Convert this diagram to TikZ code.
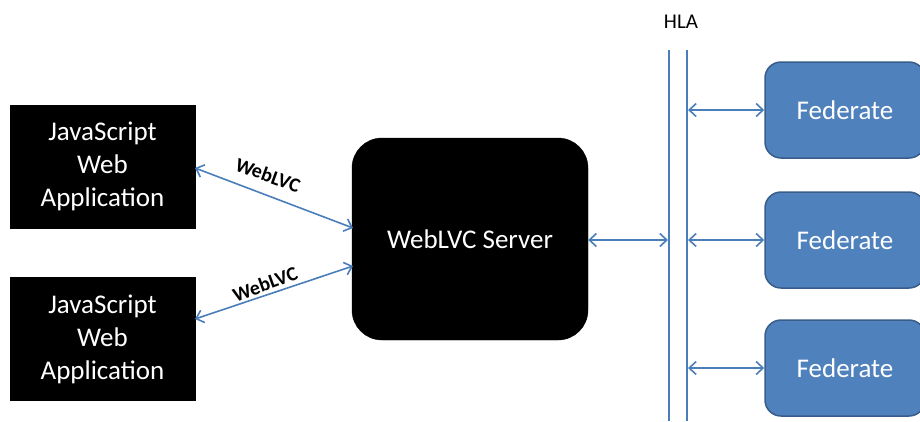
\documentclass[tikz,border=0pt]{standalone}
\usepackage{fontspec}
\setmainfont{Carlito}
\usetikzlibrary{arrows.meta}
\definecolor{linkblue}{HTML}{4A7EBB}
\definecolor{fedfill}{HTML}{4F81BD}
\definecolor{fededge}{HTML}{385D8A}
\begin{document}
\begin{tikzpicture}[x=1pt,y=-1pt,
  appbox/.style={fill=black,draw=black,minimum width=185pt,minimum height=123pt,
    text=white,align=center,font=\fontsize{27}{33}\selectfont,inner sep=0pt},
  serverbox/.style={fill=black,draw=black,rounded corners=30pt,minimum width=236pt,
    minimum height=202pt,text=white,font=\fontsize{27}{30}\selectfont},
  fedbox/.style={fill=fedfill,draw=fededge,line width=1.5pt,rounded corners=16pt,
    minimum width=160pt,minimum height=96pt,text=white,font=\fontsize{27}{30}\selectfont},
  link/.style={draw=linkblue,line width=1.6pt,{Straight Barb[length=7pt,width=13pt]}-{Straight Barb[length=7pt,width=13pt]}},
  bus/.style={draw=linkblue,line width=1.6pt},
  tag/.style={font=\bfseries\fontsize{20}{22}\selectfont,inner sep=1pt}]
\useasboundingbox (0,0) rectangle (920,421);
% client applications
\node[appbox] (app1) at (102.5,166.5) {JavaScript\\Web\\Application};
\node[appbox] (app2) at (102.5,339) {JavaScript\\Web\\Application};
% server
\node[serverbox] (srv) at (470,239) {WebLVC Server};
% HLA bus
\coordinate (busLtop) at (669,50);
\coordinate (busLbot) at (669,421);
\coordinate (busRtop) at (687,50);
\coordinate (busRbot) at (687,421);
\draw[bus] (busLtop) -- (busLbot);
\draw[bus] (busRtop) -- (busRbot);
\node[font=\fontsize{21}{24}\selectfont] (hla) at (681,22) {HLA};
% federates
\node[fedbox] (fed1) at (845,110) {Federate};
\node[fedbox] (fed2) at (845,240) {Federate};
\node[fedbox] (fed3) at (845,368) {Federate};
% WebLVC links
\coordinate (a1) at (195,168);
\coordinate (s1) at (353,228);
\coordinate (a2) at (195,319);
\coordinate (s2) at (353,266);
\draw[link] (a1) -- (s1);
\draw[link] (a2) -- (s2);
\node[tag,rotate=-20] (t1) at (268,175) {WebLVC};
\node[tag,rotate=20] (t2) at (265,284) {WebLVC};
% server to bus
\coordinate (b0) at (668,240);
\draw[link] (srv.east |- b0) -- (b0);
% bus to federates
\coordinate (b1) at (688,110);
\coordinate (b2) at (688,240);
\coordinate (b3) at (688,368);
\draw[link] (b1) -- (fed1.west);
\draw[link] (b2) -- (fed2.west);
\draw[link] (b3) -- (fed3.west);
\end{tikzpicture}
\end{document}
